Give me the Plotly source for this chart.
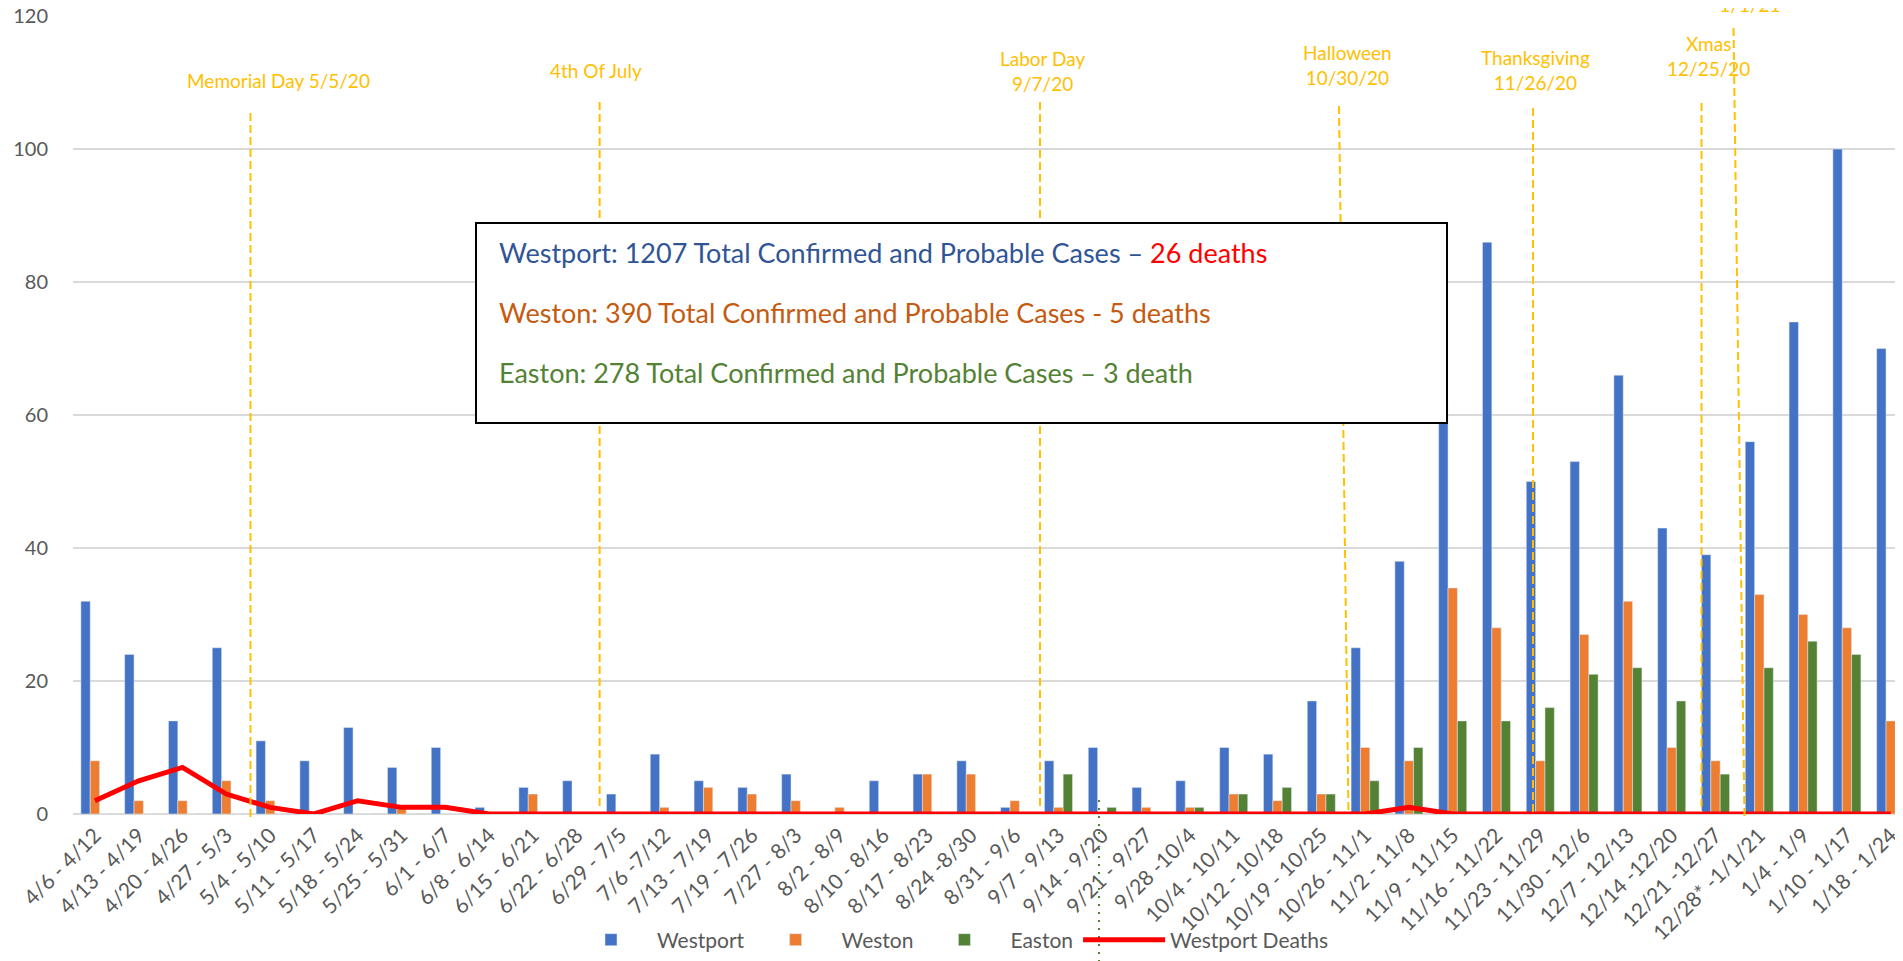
import plotly.graph_objects as go

# ---------------- data ----------------
weeks = ["4/6 - 4/12", "4/13 - 4/19", "4/20 - 4/26", "4/27 - 5/3", "5/4 - 5/10",
         "5/11 - 5/17", "5/18 - 5/24", "5/25 - 5/31", "6/1 - 6/7", "6/8 - 6/14",
         "6/15 - 6/21", "6/22 - 6/28", "6/29 - 7/5", "7/6 -7/12", "7/13 - 7/19",
         "7/19 - 7/26", "7/27 - 8/3", "8/2 - 8/9", "8/10 - 8/16", "8/17 - 8/23",
         "8/24 -8/30", "8/31 - 9/6", "9/7 - 9/13", "9/14 - 9/20", "9/21 - 9/27",
         "9/28 -10/4", "10/4 - 10/11", "10/12 - 10/18", "10/19 - 10/25", "10/26 - 11/1",
         "11/2 - 11/8", "11/9 - 11/15", "11/16 - 11/22", "11/23 - 11/29", "11/30 - 12/6",
         "12/7 - 12/13", "12/14 -12/20", "12/21 -12/27", "12/28* -1/1/21", "1/4 - 1/9",
         "1/10 - 1/17", "1/18 - 1/24"]

westport = [32, 24, 14, 25, 11, 8, 13, 7, 10, 1,
            4, 5, 3, 9, 5, 4, 6, 0, 5, 6,
            8, 1, 8, 10, 4, 5, 10, 9, 17, 25,
            38, 62, 86, 50, 53, 66, 43, 39, 56, 74,
            100, 70]
weston = [8, 2, 2, 5, 2, 0, 0, 1, 0, 0,
          3, 0, 0, 1, 4, 3, 2, 1, 0, 6,
          6, 2, 1, 0, 1, 1, 3, 2, 3, 10,
          8, 34, 28, 8, 27, 32, 10, 8, 33, 30,
          28, 14]
easton = [0, 0, 0, 0, 0, 0, 0, 0, 0, 0,
          0, 0, 0, 0, 0, 0, 0, 0, 0, 0,
          0, 0, 6, 1, 0, 1, 3, 4, 3, 5,
          10, 14, 14, 16, 21, 22, 17, 6, 22, 26,
          24, 2]
westport_deaths = [2, 5, 7, 3, 1, 0, 2, 1, 1, 0,
                   0, 0, 0, 0, 0, 0, 0, 0, 0, 0,
                   0, 0, 0, 0, 0, 0, 0, 0, 0, 0,
                   1, 0, 0, 0, 0, 0, 0, 0, 0, 0,
                   0, 0]

series_names = ["Westport", "Weston", "Easton", "Westport Deaths"]
y_ticks = [0, 20, 40, 60, 80, 100, 120]

holiday_labels = ["Memorial Day 5/5/20", "4th Of July", "Labor Day<br>9/7/20",
                  "Halloween<br>10/30/20", "Thanksgiving<br>11/26/20",
                  "Xmas<br>12/25/20", "1/1/21"]

summary_lines = [
    "Westport: 1207 Total Confirmed and Probable Cases \u2013 ",
    "26 deaths",
    "Weston: 390 Total Confirmed and Probable Cases - 5 deaths",
    "Easton: 278 Total Confirmed and Probable Cases \u2013 3 death",
]

# ---------------- geometry / style ----------------
VW, VH = 1903, 961          # browser viewport
OFF = 8                     # default <body> margin of the written page
W, H = VW - OFF, VH - OFF   # figure size so that it ends at the viewport edges
PLOT_L, PLOT_T, PLOT_B = 73, 16, 814   # plot area in page pixels
PW = VW - PLOT_L
PH = PLOT_B - PLOT_T
ML, MT = PLOT_L - OFF, PLOT_T - OFF
MR = 0
MB = H - MT - PH
CAT_W = 43.8
X_END = PW / CAT_W - 0.5

FONT = "Lato, 'Open Sans', sans-serif"
GRAY = "#595959"
GOLD = "#FFC000"
GRID = "#D9D9D9"
C_BLUE, C_ORANGE, C_GREEN, C_RED = "#4472C4", "#ED7D31", "#548235", "#FF0000"


def px_x(px):
    return (px - PLOT_L) / PW


def px_y(py):
    return (PLOT_B - py) / PH


def cat_x(px):
    return (px - PLOT_L) / CAT_W - 0.5


fig = go.Figure()
fig.add_trace(go.Bar(x=weeks, y=westport, name=series_names[0], marker_color=C_BLUE))
fig.add_trace(go.Bar(x=weeks, y=weston, name=series_names[1], marker_color=C_ORANGE))
fig.add_trace(go.Bar(x=weeks, y=easton, name=series_names[2], marker_color=C_GREEN))
fig.add_trace(go.Scatter(x=weeks, y=westport_deaths, name=series_names[3], mode="lines",
                         line=dict(color=C_RED, width=5)))

shapes = []
# holiday dashed lines: (top x px, top y px, bottom x px, bottom y px)
hol_lines = [(250.5, 113, 250.5, 820), (599.6, 102, 599.6, 810), (1040, 102, 1040, 810),
             (1339, 106, 1348.5, 812), (1533, 108, 1533, 815), (1701.5, 103, 1701.5, 812),
             (1733.5, 28, 1744.5, 819)]
for x0, y0, x1, y1 in hol_lines:
    shapes.append(dict(type="line", xref="x", yref="paper",
                       x0=cat_x(x0), y0=px_y(y0), x1=cat_x(x1), y1=px_y(y1),
                       line=dict(color=GOLD, width=2, dash="8px,4px"), layer="above"))
# green dotted marker line
shapes.append(dict(type="line", xref="x", yref="paper",
                   x0=cat_x(1099), y0=px_y(800), x1=cat_x(1099), y1=px_y(VH),
                   line=dict(color=C_GREEN, width=2, dash="2px,6px"), layer="above"))
# summary box
shapes.append(dict(type="rect", xref="paper", yref="paper",
                   x0=px_x(476), y0=px_y(423), x1=px_x(1447), y1=px_y(223),
                   fillcolor="white", line=dict(color="black", width=2), layer="above"))

annotations = []
hol_pos = [(278, 80), (596, 70), (1042, 71), (1347, 65), (1535, 70), (1708, 56)]
for lab, (x, y) in zip(holiday_labels[:-1], hol_pos):
    annotations.append(dict(text=lab, xref="paper", yref="paper", x=px_x(x), y=px_y(y),
                            xanchor="center", yanchor="middle", showarrow=False,
                            font=dict(family=FONT, size=19, color=GOLD)))
annotations.append(dict(text=holiday_labels[-1], xref="paper", yref="paper",
                        x=px_x(1750), y=px_y(4), xanchor="center", yanchor="middle",
                        showarrow=False, bgcolor="white", width=102, height=44,
                        font=dict(family=FONT, size=19, color=GOLD)))

annotations.append(dict(
    text=f"<span style='color:#2F5597'>{summary_lines[0]}</span>"
         f"<span style='color:{C_RED}'>{summary_lines[1]}</span>",
    xref="paper", yref="paper", x=px_x(497), y=px_y(253), xanchor="left", yanchor="middle",
    showarrow=False, font=dict(family=FONT, size=27, color="#2F5597")))
annotations.append(dict(text=summary_lines[2], xref="paper", yref="paper", x=px_x(497),
                        y=px_y(313), xanchor="left", yanchor="middle", showarrow=False,
                        font=dict(family=FONT, size=27, color="#C55A11")))
annotations.append(dict(text=summary_lines[3], xref="paper", yref="paper", x=px_x(497),
                        y=px_y(373), xanchor="left", yanchor="middle", showarrow=False,
                        font=dict(family=FONT, size=27, color=C_GREEN)))

fig.update_layout(
    width=W, height=H,
    margin=dict(l=ML, r=MR, t=MT, b=MB, autoexpand=False),
    paper_bgcolor="white", plot_bgcolor="white",
    barmode="group", bargap=0.36, bargroupgap=0,
    font=dict(family=FONT, color=GRAY),
    showlegend=True,
    legend=dict(orientation="h", x=px_x(565), y=px_y(940), xanchor="left", yanchor="middle",
                font=dict(family=FONT, size=21, color=GRAY), bgcolor="rgba(0,0,0,0)",
                traceorder="normal", itemwidth=82),
    shapes=shapes,
    annotations=annotations,
)
fig.update_xaxes(type="category", range=[-0.5, X_END], tickangle=-45,
                 tickfont=dict(family=FONT, size=21, color=GRAY),
                 showgrid=False, showline=False, zeroline=False, ticks="",
                 ticklabelstandoff=4, automargin=False)
fig.update_yaxes(range=[0, 120.02], tickvals=y_ticks, showgrid=True, gridcolor=GRID,
                 gridwidth=1.5, zeroline=True, zerolinecolor=GRID, zerolinewidth=1.5,
                 showline=False, ticks="", tickfont=dict(family=FONT, size=20, color=GRAY),
                 ticklabelstandoff=24, ticklabeloverflow="allow", automargin=False)

fig.write_html("out.html")
